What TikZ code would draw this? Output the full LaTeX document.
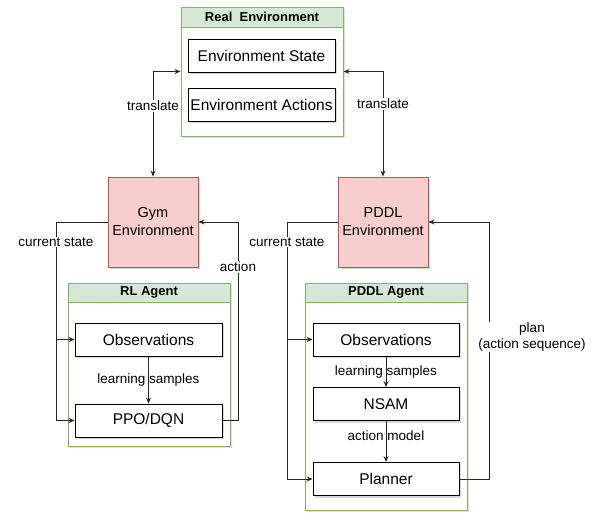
\documentclass[tikz,border=0pt]{standalone}
\usepackage{fontspec}
\setmainfont{Liberation Sans}
\usetikzlibrary{arrows.meta,shadows,positioning}
\definecolor{grfill}{HTML}{D5E8D4}
\definecolor{grline}{HTML}{82B366}
\definecolor{rdfill}{HTML}{F8CECC}
\definecolor{rdline}{HTML}{B85450}
\tikzset{
  cont/.style={draw=grline, line width=1pt, fill=white, drop shadow={opacity=0.25,shadow xshift=1.5pt,shadow yshift=-1.5pt}},
  hdr/.style={draw=grline, line width=1pt, fill=grfill, font=\fontsize{13}{15}\selectfont\bfseries},
  boxn/.style={draw=black, line width=0.9pt, fill=white, minimum height=33pt, inner sep=0pt,
    font=\fontsize{15.5}{18}\selectfont, drop shadow={opacity=0.3,shadow xshift=2pt,shadow yshift=-2pt}},
  envn/.style={draw=rdline, line width=0.9pt, fill=rdfill, minimum width=90pt, minimum height=90pt, inner sep=0pt,
    align=center, font=\fontsize{14.5}{18}\selectfont, drop shadow={opacity=0.3,shadow xshift=2pt,shadow yshift=-2pt}},
  conn/.style={line width=0.9pt, draw=black!85},
  arr/.style={conn, -{Stealth[length=6pt,width=5pt]}},
  lbl/.style={font=\fontsize{13.5}{16}\selectfont, inner sep=1pt, align=center},
  lblw/.style={lbl, fill=white}
}
\begin{document}
\begin{tikzpicture}[x=1pt,y=-1pt]
\useasboundingbox (0,0) rectangle (595,512);
% Real environment
\node[cont, minimum width=162pt, minimum height=129pt, inner sep=0pt] (realenv) at (262,71.5) {};
\node[hdr, minimum width=162pt, minimum height=20pt, inner sep=0pt] (realhdr) at (262,17) {Real\ \ Environment};
\node[boxn, minimum width=147pt] (envstate) at (261.5,55.5) {Environment State};
\node[boxn, minimum width=147pt] (envact) at (261.5,104.5) {Environment Actions};
% Environments
\node[envn] (gym) at (153,222) {Gym\\Environment};
\node[envn] (pddlenv) at (383,222) {PDDL\\Environment};
% RL agent
\node[cont, minimum width=162pt, minimum height=163pt, inner sep=0pt] (rlagent) at (149,364.5) {};
\node[hdr, minimum width=162pt, minimum height=19pt, inner sep=0pt] (rlhdr) at (149,292.5) {RL Agent};
\node[boxn, minimum width=147pt] (obs1) at (148.5,339.5) {Observations};
\node[boxn, minimum width=147pt] (ppo) at (148.5,420.5) {PPO/DQN};
% PDDL agent
\node[cont, minimum width=162pt, minimum height=227pt, inner sep=0pt] (pddlagent) at (386,396.5) {};
\node[hdr, minimum width=162pt, minimum height=19pt, inner sep=0pt] (pddlhdr) at (386,292.5) {PDDL Agent};
\node[boxn, minimum width=146pt] (obs2) at (386,339.5) {Observations};
\node[boxn, minimum width=146pt] (nsam) at (386,404) {NSAM};
\node[boxn, minimum width=146pt] (planner) at (386,479) {Planner};
% translate connectors
\draw[conn, {Stealth[length=6pt,width=5pt]}-{Stealth[length=6pt,width=5pt]}] (gym.north) |- (realenv.west);
\draw[conn, {Stealth[length=6pt,width=5pt]}-{Stealth[length=6pt,width=5pt]}] (pddlenv.north) |- (realenv.east);
\node[lblw] (tl) at (153,106) {translate};
\node[lblw] (tr) at (383,104) {translate};
% left loop
\coordinate (csL) at (56,222);
\draw[conn] (gym.west) -- (csL);
\draw[arr] (csL) |- (obs1.west);
\draw[arr] (csL) |- (ppo.west);
\node[lblw] (csLl) at (56,242) {current state};
\coordinate (aR) at (238,222);
\draw[arr] (ppo.east) -| (aR) -- (gym.east);
\node[lblw] (actl) at (238,267) {action};
\draw[arr] (obs1) -- (ppo);
\node[lbl] (ls1) at (148.5,380) {learning samples};
% right loop
\coordinate (csR) at (287,222);
\draw[conn] (pddlenv.west) -- (csR);
\draw[arr] (csR) |- (obs2.west);
\draw[arr] (csR) |- (planner.west);
\node[lblw] (csRl) at (287,242) {current state};
\coordinate (pR) at (489,222);
\draw[arr] (planner.east) -| (pR) -- (pddlenv.east);
\node[lblw] (plan) at (532,337) {plan\\(action sequence)};
\draw[arr] (obs2) -- (nsam);
\node[lbl] (ls2) at (386,372) {learning samples};
\draw[arr] (nsam) -- (planner);
\node[lbl] (am) at (386,436) {action model};
\end{tikzpicture}
\end{document}
